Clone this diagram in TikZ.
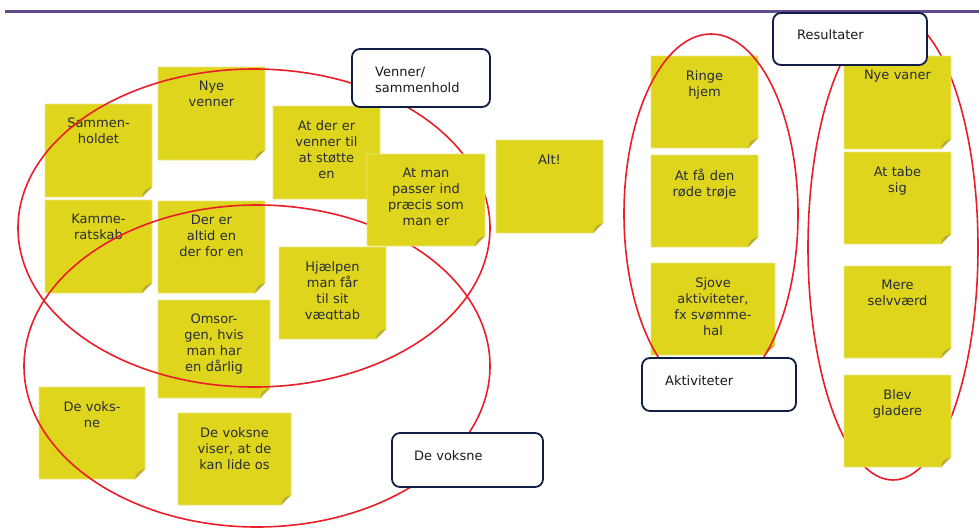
\documentclass[tikz,border=0pt]{standalone}
\usepackage{fontspec}
\setmainfont{DejaVu Sans}
\usetikzlibrary{calc}
\definecolor{notey}{RGB}{222,213,28}
\definecolor{noteedge}{RGB}{236,230,130}
\definecolor{flapc}{RGB}{184,172,60}
\definecolor{notetxt}{RGB}{40,44,64}
\definecolor{ringred}{RGB}{234,30,40}
\definecolor{labnavy}{RGB}{16,30,70}
\definecolor{topline}{RGB}{96,76,140}
\tikzset{
  notefill/.style={fill=notey, draw=noteedge, line width=0.7pt},
  flapfill/.style={fill=flapc},
  notetext/.style={anchor=north, inner sep=0pt, align=center, text=notetxt, font=\fontsize{13}{16}\selectfont},
  ring/.style={draw=ringred, line width=1.6pt},
  labbox/.style={draw=labnavy, line width=1.8pt, rounded corners=8pt, fill=white, inner sep=0pt},
  labtext/.style={anchor=west, inner sep=0pt, align=left, text=black!90, font=\fontsize{13}{15.5}\selectfont},
}
% shape of a sticky note: name, left, top, right, bottom
\newcommand\stickbody[5]{%
  \path[notefill] (#2,#3) -- (#4,#3) -- ([shift={(0,-10)}]#4,#5) -- ([shift={(-10,0)}]#4,#5) -- (#2,#5) -- cycle;
  \fill[flapfill] ([shift={(0,-10)}]#4,#5) .. controls ([shift={(-8,-7)}]#4,#5) .. ([shift={(-10,0)}]#4,#5) -- cycle;
  \coordinate (#1) at ({(#2+#4)/2},{(#3+#5)/2});
}
% text of a sticky note: name, left, top, right, text
\newcommand\sticktext[5]{%
  \pgfmathsetmacro\stw{#4-#2-4}%
  \node[notetext, text width=\stw pt] (#1t) at ({(#2+#4)/2},{#3+14}) {#5};
}
\newcommand\stick[6]{\stickbody{#1}{#2}{#3}{#4}{#5}\sticktext{#1}{#2}{#3}{#4}{#6}}
\begin{document}
\begin{tikzpicture}[x=1pt,y=-1pt]
\useasboundingbox (0,0) rectangle (979,531);
% top rule
\coordinate (tl) at (5,11.5);
\coordinate (tr) at (979,11.5);
\draw[topline, line width=2.6pt] (tl) -- (tr);
% ring under the result notes
\draw[ring] (893,247.5) ellipse [x radius=85, y radius=232.5];
% sticky notes
\stick{s1}{45}{104}{152}{197}{Sammen-\\holdet}
\stick{s2}{158}{67}{265}{160}{Nye\\venner}
\stick{s3}{45}{200}{152}{293}{Kamme-\\ratskab}
\stick{s4}{158}{201}{265}{293}{Der er\\altid en\\der for en}
\stick{s5}{273}{106}{380}{199}{At der er\\venner til\\at støtte\\en}
\stick{s7}{496}{140}{603}{233}{Alt!}
\stickbody{s8}{279}{247}{386}{339}
\begin{scope}
  \clip (279,247) rectangle (386,319.5);
  \sticktext{s8}{279}{247}{386}{Hjælpen\\man får\\til sit\\vægttab}
\end{scope}
\stick{s9}{158}{300}{270}{398}{Omsor-\\gen, hvis\\man har\\en dårlig}
\stick{s10}{39}{387}{145}{479}{De voks-\\ne}
\stick{s11}{178}{413}{291}{505}{De voksne\\viser, at de\\kan lide os}
\stick{s12}{651}{56}{758}{148}{Ringe\\hjem}
\stick{s13}{651}{155}{758}{247}{At få den\\røde trøje}
\stick{s14}{651}{263}{775}{355}{Sjove\\aktiviteter,\\fx svømme-\\hal}
\stick{s15}{844}{56}{951}{149}{Nye vaner}
\stick{s16}{844}{152}{951}{244}{At tabe\\sig}
\stick{s17}{844}{266}{951}{358}{Mere\\selvværd}
\stick{s18}{844}{375}{951}{467}{Blev\\gladere}
% rings over the notes
\draw[ring] (254,228) ellipse [x radius=236, y radius=159];
\draw[ring] (257,366) ellipse [x radius=233, y radius=161];
\draw[ring] (711,214) ellipse [x radius=87, y radius=180];
% note lying over the rings
\stick{s6}{367}{154}{485}{246}{At man\\passer ind\\præcis som\\man er}
% label boxes
\node[labbox, minimum width=138pt, minimum height=58pt] (vl) at (421,78) {};
\node[labtext] (vlt) at (375,80) {Venner/\\sammenhold};
\node[labbox, minimum width=151pt, minimum height=54pt] (dv) at (467.5,460) {};
\node[labtext] (dvt) at (414,456) {De voksne};
\node[labbox, minimum width=154pt, minimum height=53pt] (ak) at (719,384.5) {};
\node[labtext] (akt) at (665,380.5) {Aktiviteter};
\node[labbox, minimum width=154pt, minimum height=52pt] (rs) at (850,39) {};
\node[labtext] (rst) at (797,34.5) {Resultater};
\end{tikzpicture}
\end{document}
